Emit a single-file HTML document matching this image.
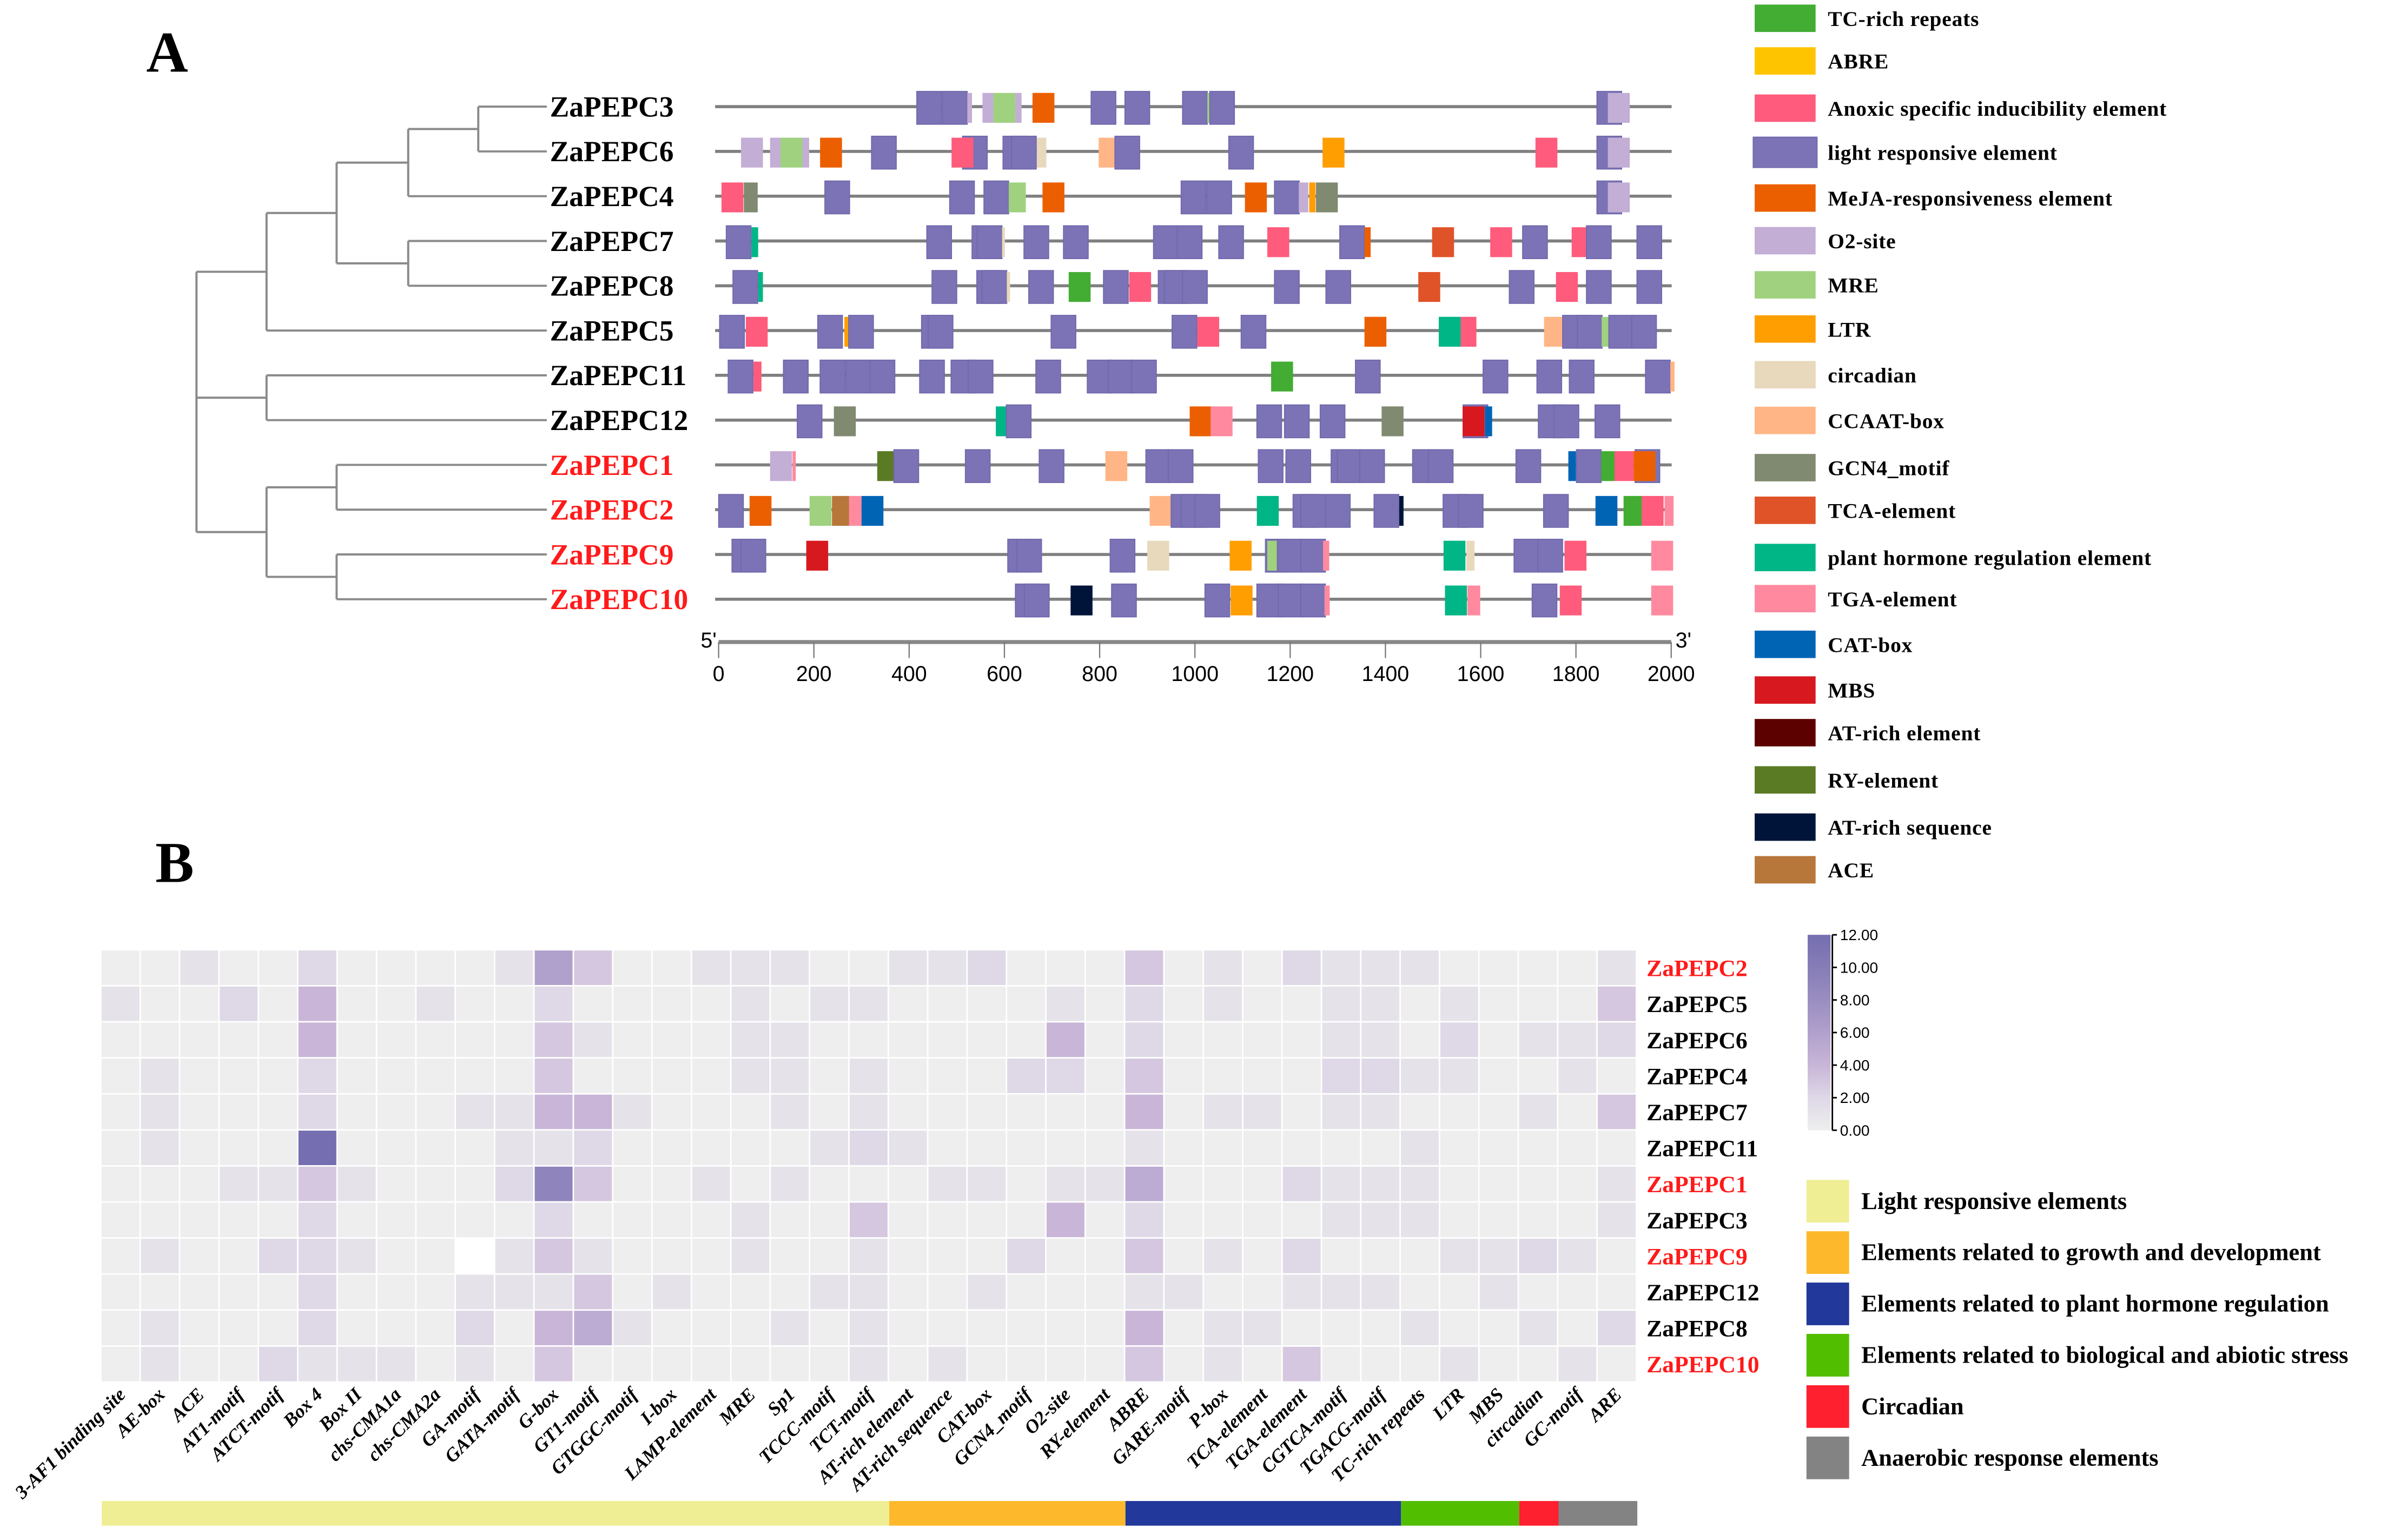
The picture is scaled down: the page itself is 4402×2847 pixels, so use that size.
<!DOCTYPE html>
<html><head><meta charset="utf-8"><style>
html,body{margin:0;padding:0;background:#fff;}
svg{display:block;}
.serif{font-family:"Liberation Serif",serif;font-weight:bold;}
</style></head><body>
<svg id="fig" xmlns="http://www.w3.org/2000/svg" width="4402" height="2847" viewBox="0 0 1563.2 1011">
<rect x="0" y="0" width="1563.2" height="1011" fill="#fff"/>
<text x="96" y="47" class="serif" font-size="38" fill="#000">A</text>
<text x="102" y="579" class="serif" font-size="38" fill="#000">B</text>
<g id="tree"></g>
<g id="genes"></g>
<g id="axisA"></g>
<g id="legendA"></g>
<g id="heat"></g>
<g id="scale"></g>
<g id="catleg"></g>
</svg>
<script>
// ---------- Panel A data ----------
const geneOrder = ["ZaPEPC3","ZaPEPC6","ZaPEPC4","ZaPEPC7","ZaPEPC8","ZaPEPC5","ZaPEPC11","ZaPEPC12","ZaPEPC1","ZaPEPC2","ZaPEPC9","ZaPEPC10"];
const redGenes = ["ZaPEPC1","ZaPEPC2","ZaPEPC9","ZaPEPC10"];
const axisTicks = [0,200,400,600,800,1000,1200,1400,1600,1800,2000];
const elementTypes = ["TC","AB","AN","L","MJ","O2","MRE","LTR","CI","CC","GC","TCA","PH","TGA","CAT","MBS","AT","RY","ATS","ACE"];
const elementNames = ["TC-rich repeats","ABRE","Anoxic specific inducibility element","light responsive element","MeJA-responsiveness element","O2-site","MRE","LTR","circadian","CCAAT-box","GCN4_motif","TCA-element","plant hormone regulation element","TGA-element","CAT-box","MBS","AT-rich element","RY-element","AT-rich sequence","ACE"];
const elementColors = ["#43ac33","#ffc400","#ff5b7c","#7b73b5","#ec5f00","#c3aed5","#9fd17f","#ff9e00","#e8d8bc","#ffb585","#7f8a70","#e05228","#00b586","#ff8aa0","#0064b4","#d7191f","#5c0000","#5a7a24","#00143a","#b7763a"];
const elemG3 = [[416,"L"],[470,"L"],[522,"O2",10],[554,"O2",23],[577,"MRE"],[623,"O2",13],[659,"MJ"],[782,"L"],[853,"L"],[974,"L"],[1026,"MRE",4],[1031,"L"],[1844,"L"],[1867,"O2"]];
const elemG6 = [[47,"O2"],[108,"O2",22],[130,"MRE"],[176,"O2",14],[213,"MJ"],[321,"L"],[512,"L"],[489,"AN"],[597,"L"],[615,"L"],[668,"CI",20],[798,"CC"],[832,"L"],[1071,"L"],[1268,"LTR"],[1715,"AN"],[1844,"L"],[1867,"O2"]];
const elemG4 = [[6,"AN"],[53,"GC",29],[223,"L"],[485,"L"],[557,"L"],[609,"MRE",36],[680,"MJ"],[971,"L"],[1025,"L"],[1105,"MJ"],[1167,"L"],[1218,"O2",20],[1240,"LTR",13],[1254,"GC"],[1844,"L"],[1867,"O2"]];
const elemG7 = [[16,"L"],[69,"PH",14],[437,"L"],[532,"L"],[543,"L"],[595,"CI",6],[641,"L"],[724,"L"],[913,"L"],[963,"L"],[1050,"L"],[1152,"AN"],[1304,"L"],[1356,"MJ",13],[1498,"TCA"],[1620,"AN"],[1688,"L"],[1791,"AN"],[1822,"L"],[1928,"L"]];
const elemG8 = [[30,"L"],[83,"PH",10],[448,"L"],[542,"L"],[553,"L"],[605,"CI",7],[651,"L"],[735,"TC"],[808,"L"],[862,"AN"],[923,"L"],[936,"L"],[974,"L"],[1167,"L"],[1275,"L"],[1469,"TCA"],[1660,"L"],[1758,"AN"],[1822,"L"],[1928,"L"]];
const elemG5 = [[2,"L"],[57,"AN"],[208,"L"],[264,"LTR",9],[273,"L"],[426,"L"],[440,"L"],[698,"L"],[952,"L"],[1005,"AN"],[1097,"L"],[1356,"MJ"],[1512,"PH"],[1558,"AN",33],[1733,"CC"],[1772,"L"],[1803,"L"],[1854,"MRE",16],[1869,"L"],[1917,"L"]];
const elemG11 = [[20,"L"],[73,"AN",17],[136,"L"],[213,"L"],[267,"L"],[318,"L"],[422,"L"],[488,"L"],[524,"L"],[666,"L"],[774,"L"],[818,"L"],[867,"L"],[1160,"TC"],[1337,"L"],[1605,"L"],[1718,"L"],[1786,"L"],[1946,"L"],[1998,"CC",9]];
const elemG12 = [[165,"L"],[242,"GC"],[582,"PH",22],[604,"L"],[989,"MJ"],[1033,"TGA"],[1130,"L"],[1188,"L"],[1263,"L"],[1392,"GC"],[1563,"L"],[1562,"MBS"],[1609,"CAT",15],[1721,"L"],[1754,"L"],[1840,"L"]];
const elemG1 = [[108,"O2"],[155,"TGA",7],[333,"RY",36],[368,"L"],[518,"L"],[673,"L"],[812,"CC"],[897,"L"],[944,"L"],[1133,"L"],[1191,"L"],[1286,"L"],[1299,"L"],[1346,"L"],[1457,"L"],[1490,"L"],[1674,"L"],[1784,"CAT",16],[1801,"L"],[1853,"TC",28],[1881,"AN",40],[1924,"L"],[1921,"MJ"]];
const elemG2 = [[0,"L"],[65,"MJ"],[191,"MRE"],[238,"ACE",36],[274,"TGA",26],[300,"CAT"],[905,"CC"],[950,"L"],[971,"L"],[1000,"L"],[1130,"PH"],[1206,"L"],[1222,"L"],[1274,"L"],[1376,"L"],[1429,"ATS",9],[1521,"L"],[1553,"L"],[1732,"L"],[1841,"CAT"],[1900,"TC",39],[1938,"AN"],[1986,"TGA",19]];
const elemG9 = [[28,"L"],[47,"L"],[184,"MBS"],[607,"L"],[626,"L"],[822,"L"],[900,"CI"],[1073,"LTR"],[1148,"L"],[1152,"MRE",20],[1174,"L"],[1222,"L"],[1269,"TGA",13],[1522,"PH"],[1570,"CI",17],[1670,"L"],[1720,"L"],[1776,"AN"],[1958,"TGA"]];
const elemG10 = [[623,"L"],[642,"L"],[739,"ATS"],[825,"L"],[1021,"L"],[1075,"LTR"],[1130,"L"],[1175,"L"],[1222,"L"],[1272,"TGA",11],[1525,"PH"],[1572,"TGA",27],[1708,"L"],[1766,"AN"],[1958,"TGA"]];
const geneElements = [elemG3,elemG6,elemG4,elemG7,elemG8,elemG5,elemG11,elemG12,elemG1,elemG2,elemG9,elemG10];

// ---------- Panel B data ----------
const motifs = ["3-AF1 binding site","AE-box","ACE","AT1-motif","ATCT-motif","Box 4","Box II","chs-CMA1a","chs-CMA2a","GA-motif","GATA-motif","G-box","GT1-motif","GTGGC-motif","I-box","LAMP-element","MRE","Sp1","TCCC-motif","TCT-motif","AT-rich element","AT-rich sequence","CAT-box","GCN4_motif","O2-site","RY-element","ABRE","GARE-motif","P-box","TCA-element","TGA-element","CGTCA-motif","TGACG-motif","TC-rich repeats","LTR","MBS","circadian","GC-motif","ARE"];
const heatGenes = ["ZaPEPC2","ZaPEPC5","ZaPEPC6","ZaPEPC4","ZaPEPC7","ZaPEPC11","ZaPEPC1","ZaPEPC3","ZaPEPC9","ZaPEPC12","ZaPEPC8","ZaPEPC10"];
const valsPEPC2  = [0,0,1,0,0,2,0,0,0,0,1,6,3,0,0,1,1,1,0,0,1,1,2,0,0,0,3,0,1,0,2,1,1,1,0,0,0,0,1];
const valsPEPC5  = [1,0,0,2,0,4,0,0,1,0,0,2,0,0,0,0,1,0,1,1,0,0,0,0,1,0,2,0,1,0,0,1,1,0,1,0,0,0,3];
const valsPEPC6  = [0,0,0,0,0,4,0,0,0,0,0,3,1,0,0,0,1,1,0,0,0,0,0,0,4,0,2,0,0,0,0,1,1,0,2,0,1,1,2];
const valsPEPC4  = [0,1,0,0,0,2,0,0,0,0,0,3,0,0,0,0,1,1,0,1,0,0,0,2,2,0,3,0,0,0,0,2,2,1,1,0,0,1,0];
const valsPEPC7  = [0,1,0,0,0,2,0,0,0,1,1,4,4,1,0,0,0,1,0,1,0,0,0,0,0,0,4,0,1,1,0,1,1,0,0,0,1,0,3];
const valsPEPC11 = [0,1,0,0,0,12,0,0,0,0,1,1,2,0,0,0,0,0,1,2,1,0,0,0,0,0,1,0,0,0,0,0,0,1,0,0,0,0,0];
const valsPEPC1  = [0,0,0,1,1,3,1,0,0,0,2,9,3,0,0,1,0,1,0,0,0,1,1,0,1,1,5,0,0,0,2,1,1,1,0,0,0,0,1];
const valsPEPC3  = [0,0,0,0,0,2,0,0,0,0,0,2,0,0,0,0,1,0,0,3,0,0,0,0,4,0,2,0,0,0,0,1,1,1,0,0,0,0,1];
const valsPEPC9  = [0,1,0,0,2,2,1,0,0,-1,1,3,1,0,0,0,1,0,0,1,0,0,0,2,0,0,3,0,1,0,2,0,0,0,1,1,2,1,0];
const valsPEPC12 = [0,0,0,0,0,2,0,0,0,1,1,1,3,0,1,0,0,0,1,1,0,0,1,0,0,0,1,1,0,0,1,1,1,0,0,1,0,0,0];
const valsPEPC8  = [0,1,0,0,0,2,0,0,0,2,0,4,5,1,0,0,0,1,0,1,0,0,0,0,0,0,4,0,1,1,0,0,0,1,0,0,1,0,2];
const valsPEPC10 = [0,1,0,0,2,1,1,1,0,1,0,3,0,0,0,0,0,0,0,1,0,1,0,0,0,0,3,0,1,0,3,0,0,0,1,0,0,1,0];
const heatValues = [valsPEPC2,valsPEPC5,valsPEPC6,valsPEPC4,valsPEPC7,valsPEPC11,valsPEPC1,valsPEPC3,valsPEPC9,valsPEPC12,valsPEPC8,valsPEPC10];
const scaleTicks = [0,2,4,6,8,10,12];
const categoryNames = ["Light responsive elements","Elements related to growth and development","Elements related to plant hormone regulation","Elements related to biological and abiotic stress","Circadian","Anaerobic response elements"];
const categoryCounts = [20,6,7,3,1,2];
const categoryColors = ["#f0ee94","#fdb92b","#22389a","#52be00","#fe202f","#838383"];

// ---------- helpers ----------
const NS = "http://www.w3.org/2000/svg";
function mk(tag, attrs, parent){const e=document.createElementNS(NS,tag);for(const k in attrs)e.setAttribute(k,attrs[k]);parent.appendChild(e);return e;}
const SERIF = '"Liberation Serif", serif';
const SANS = '"Liberation Sans", sans-serif';

const bpX0 = 471.8, bpX1 = 1097.2, bpMax = 2000;
const xBp = bp => bpX0 + (bpX1 - bpX0) * bp / bpMax;
const rowY = i => 70 + i * 29.4;

// ---------- Tree ----------
const tree = document.getElementById('tree');
const leafX = 359;
function tline(x1,y1,x2,y2){
  const l = mk('line',{x1,y1,x2,y2,stroke:'#8a8a8a','stroke-width':1.4},tree);
  
  
}
function clade(x, ys){
  const mn=Math.min(...ys), mx=Math.max(...ys);
  tline(x,mn,x,mx);
  return (mn+mx)/2;
}
const Y = i => rowY(i);
function leaf(i,x){tline(x,Y(i),leafX,Y(i));}
leaf(0,314); leaf(1,314); const n36 = clade(314,[Y(0),Y(1)]);
tline(268,n36,314,n36); leaf(2,268); const n364 = clade(268,[n36,Y(2)]);
leaf(3,268); leaf(4,268); const n78 = clade(268,[Y(3),Y(4)]);
tline(221,n364,268,n364); tline(221,n78,268,n78); const nA = clade(221,[n364,n78]);
tline(175,nA,221,nA); leaf(5,175); const nB = clade(175,[nA,Y(5)]);
leaf(6,175); leaf(7,175); const n1112 = clade(175,[Y(6),Y(7)]);
leaf(8,221); leaf(9,221); const n12 = clade(221,[Y(8),Y(9)]);
leaf(10,221); leaf(11,221); const n910 = clade(221,[Y(10),Y(11)]);
tline(175,n12,221,n12); tline(175,n910,221,n910); const nC = clade(175,[n12,n910]);
tline(129,nB,175,nB); tline(129,n1112,175,n1112); tline(129,nC,175,nC);
clade(129,[nB,n1112,nC]);

geneOrder.forEach((g,i)=>{
  const t = mk('text',{x:361,y:rowY(i)+6.5,'font-family':SERIF,'font-weight':'bold','font-size':19,fill:redGenes.includes(g)?'#ff1a1a':'#000'},tree);
  t.textContent = g;
  
  
});

// ---------- Gene element tracks ----------
const genesG = document.getElementById('genes');
geneOrder.forEach((g,i)=>{
  const y = rowY(i);
  const ln = mk('line',{x1:469.5,y1:y,x2:1097.5,y2:y,stroke:'#808080','stroke-width':2},genesG);
  
  
  geneElements[i].forEach(el=>{
    const [bp,type,wbp] = el;
    const isL = type==='L';
    const w = (wbp!==undefined?wbp:(isL?52:46));
    const x = xBp(bp), x2 = xBp(bp+w);
    const h = isL?21.6:19.6;
    const ci = elementTypes.indexOf(type);
    const r = mk('rect',{x:x,y:y-h/2+0.8,width:Math.max(x2-x,1),height:h,fill:elementColors[ci]},genesG);
    if(isL){r.setAttribute('stroke','#6e67aa');r.setAttribute('stroke-width','0.6');}
    
    
  });
});

// ---------- Axis ----------
const axisG = document.getElementById('axisA');
const axY = 421.5;
const axl = mk('line',{x1:bpX0,y1:axY,x2:bpX1,y2:axY,stroke:'#888','stroke-width':2.6},axisG);


axisTicks.forEach(v=>{
  const x = xBp(v);
  const tk = mk('line',{x1:x,y1:axY,x2:x,y2:432,stroke:'#777','stroke-width':0.8},axisG);
  
  
  const t = mk('text',{x:x,y:447,'text-anchor':'middle','font-family':SANS,'font-size':14,fill:'#000'},axisG);
  t.textContent = v;
  
  
});
const t5 = mk('text',{x:460,y:425,'font-family':SANS,'font-size':14,fill:'#000'},axisG);
t5.textContent = "5'";


const t3 = mk('text',{x:1100,y:425,'font-family':SANS,'font-size':14,fill:'#000'},axisG);
t3.textContent = "3'";



// ---------- Legend A ----------
const legA = document.getElementById('legendA');
const legYs = [12,40,71,100,130,158,187,216,246,276,307,335,366,393,423,453,481,512,543,571];
elementNames.forEach((n,i)=>{
  const y = legYs[i];
  const isL = elementTypes[i]==='L';
  const sw = mk('rect',{x:isL?1151:1152,y:y-(isL?10:9),width:isL?42:40,height:isL?20:18,fill:elementColors[i]},legA);
  if(isL){sw.setAttribute('stroke','#6e67aa');sw.setAttribute('stroke-width','0.6');}
  
  
  const t = mk('text',{x:1200,y:y+5,'font-family':SERIF,'font-weight':'bold','font-size':14,'letter-spacing':0.3,fill:'#000'},legA);
  t.textContent = n;
  
  
});

// ---------- Heatmap ----------
const heat = document.getElementById('heat');
const hx0 = 66.2, cw = 25.85, hy0 = 623.5, rh = 23.65;
const colStops = [[0,[238,238,238]],[1,[230,226,234]],[2,[222,216,231]],[3,[213,199,223]],[4,[200,181,215]],[6,[176,160,204]],[9,[143,132,187]],[12,[117,110,176]]];
function colorFor(v){
  if(v<0) return '#ffffff';
  for(let i=1;i<colStops.length;i++){
    if(v<=colStops[i][0]){
      const [a,ca]=colStops[i-1],[b,cb]=colStops[i];
      const t=(v-a)/(b-a);
      return 'rgb('+ca.map((c,k)=>Math.round(c+(cb[k]-c)*t)).join(',')+')';
    }
  }
  return 'rgb(117,110,176)';
}
heatValues.forEach((row,r)=>{
  row.forEach((v,c)=>{
    const cell = mk('rect',{x:hx0+c*cw+0.5,y:hy0+r*rh+0.5,width:cw-1,height:rh-1,fill:colorFor(v)},heat);
    
    
  });
  const g = heatGenes[r];
  const t = mk('text',{x:1081,y:hy0+r*rh+rh/2+5.5,'font-family':SERIF,'font-weight':'bold','font-size':15.5,fill:redGenes.includes(g)?'#ff1a1a':'#000'},heat);
  t.textContent = g;
  
  
});
motifs.forEach((m,c)=>{
  const x = hx0 + c*cw + cw/2 + 4;
  const y = hy0 + 12*rh + 9;
  const t = mk('text',{x:x,y:y,'text-anchor':'end','font-family':SERIF,'font-weight':'bold','font-style':'italic','font-size':12.5,transform:'rotate(-45 '+x+' '+y+')',fill:'#000'},heat);
  t.textContent = m;
  
  
});
let cStart = 0;
categoryCounts.forEach((n,i)=>{
  const b = mk('rect',{x:hx0+cStart*cw+0.6,y:985.4,width:n*cw,height:16.2,fill:categoryColors[i]},heat);
  
  
  cStart += n;
});

// ---------- Color scale ----------
const sc = document.getElementById('scale');
const defs = mk('defs',{},sc);
const grad = mk('linearGradient',{id:'sg',x1:0,y1:1,x2:0,y2:0},defs);
[0,2,4,6,8,10,12].forEach(v=>{mk('stop',{offset:(v/12),'stop-color':colorFor(v)},grad);});
const sTop = 613.7, sBot = 742;
const sbar = mk('rect',{x:1186.8,y:sTop,width:15,height:sBot-sTop,fill:'url(#sg)'},sc);


const sl = mk('line',{x1:1203,y1:sTop,x2:1203,y2:sBot,stroke:'#000','stroke-width':1},sc);


scaleTicks.forEach(v=>{
  const y = sBot - (sBot-sTop)*v/12;
  const tk = mk('line',{x1:1203,y1:y,x2:1206,y2:y,stroke:'#000','stroke-width':1},sc);
  
  
  const t = mk('text',{x:1208,y:y+3.5,'font-family':SANS,'font-size':10,fill:'#000'},sc);
  t.textContent = v.toFixed(2);
  
  
});

// ---------- Category legend ----------
const cl = document.getElementById('catleg');
categoryNames.forEach((n,i)=>{
  const y = 774.6 + i*33.7;
  const s = mk('rect',{x:1186,y:y,width:28,height:28,fill:categoryColors[i]},cl);
  
  
  const t = mk('text',{x:1222,y:y+19,'font-family':SERIF,'font-weight':'bold','font-size':15.8,fill:'#000'},cl);
  t.textContent = n;
  
  
});
</script>
</body></html>
